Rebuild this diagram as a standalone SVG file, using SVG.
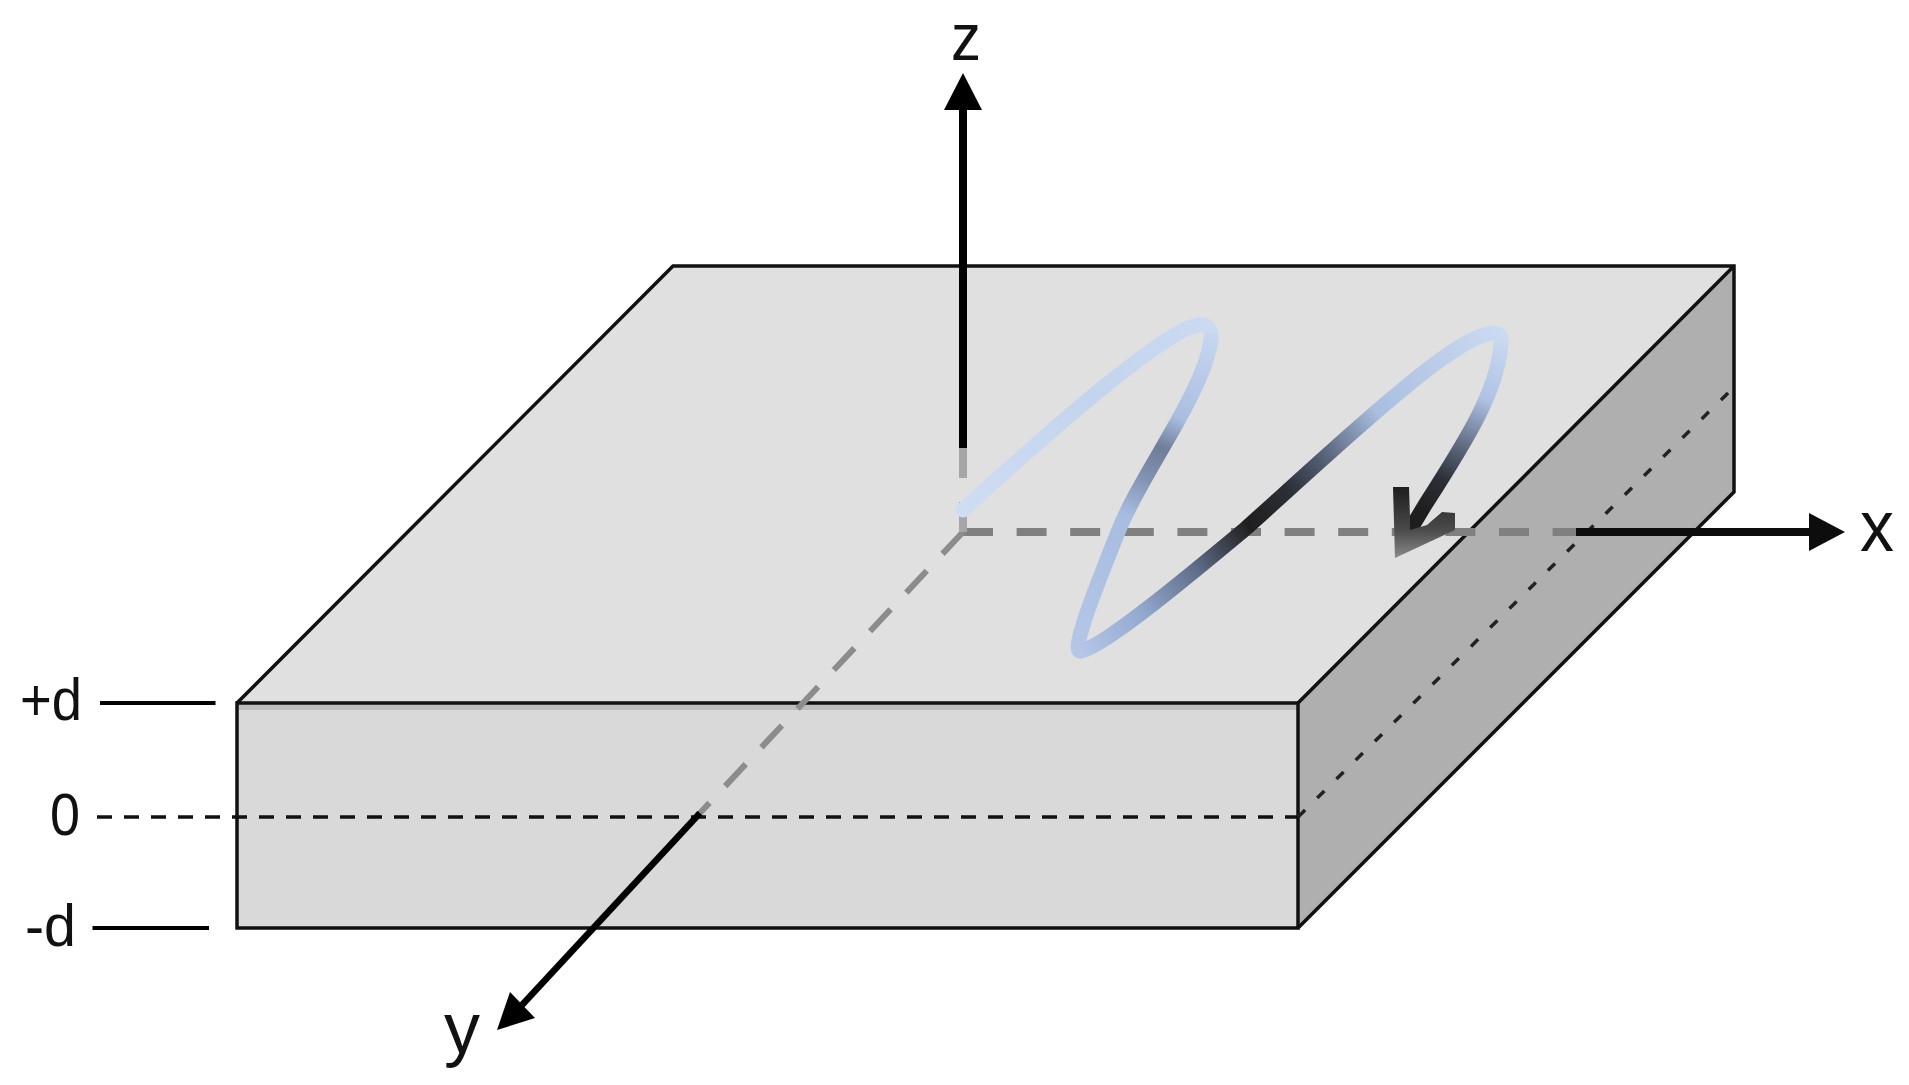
<svg xmlns="http://www.w3.org/2000/svg" width="1909" height="1085" viewBox="0 0 1909 1085">
<style>
.edge{stroke:#111;stroke-width:3.5;stroke-linejoin:miter;fill:none}
.lab{font-family:"Liberation Sans",Arial,sans-serif;fill:#111}
.ax{font-size:72px}
.tick{font-size:60px}
.wave{fill:none;stroke-width:15;stroke-linecap:round;stroke-linejoin:round}
.g1{fill:none;stroke:#808080;stroke-width:8;stroke-dasharray:30 23.6}
.g2{fill:none;stroke:#8c8c8c;stroke-width:6;stroke-dasharray:30 23}
.g3{fill:none;stroke:#a6a6a6;stroke-width:8}
.blk{stroke:#000;stroke-width:8;fill:none}
.dot{stroke:#222;stroke-width:3.5;fill:none}
</style>
<defs>
<linearGradient id="wa" gradientUnits="userSpaceOnUse" x1="963" y1="510" x2="1211" y2="325"><stop offset="0" stop-color="#cfddf3"/><stop offset="0.55" stop-color="#c3d4ee"/><stop offset="1" stop-color="#cbdaf1"/></linearGradient>
<linearGradient id="wb" gradientUnits="userSpaceOnUse" x1="1211" y1="335" x2="1078" y2="650"><stop offset="0" stop-color="#c6d6ef"/><stop offset="0.26" stop-color="#a9bee0"/><stop offset="0.36" stop-color="#6f7d98"/><stop offset="0.45" stop-color="#7f8fae"/><stop offset="0.58" stop-color="#a7bce0"/><stop offset="1" stop-color="#b4c7e7"/></linearGradient>
<linearGradient id="wc" gradientUnits="userSpaceOnUse" x1="1078" y1="650" x2="1500" y2="330"><stop offset="0" stop-color="#b4c7e7"/><stop offset="0.14" stop-color="#93a8ce"/><stop offset="0.27" stop-color="#5f6d88"/><stop offset="0.4" stop-color="#1e1e1e"/><stop offset="0.5" stop-color="#2b2f38"/><stop offset="0.6" stop-color="#5c6880"/><stop offset="0.72" stop-color="#a9bee0"/><stop offset="1" stop-color="#cbdaf1"/></linearGradient>
<linearGradient id="wd" gradientUnits="userSpaceOnUse" x1="1500" y1="340" x2="1420" y2="510"><stop offset="0" stop-color="#c9d8f0"/><stop offset="0.32" stop-color="#aec2e4"/><stop offset="0.6" stop-color="#5f6a80"/><stop offset="0.8" stop-color="#2b2f38"/><stop offset="1" stop-color="#1e1e1e"/></linearGradient>
<linearGradient id="wh" gradientUnits="userSpaceOnUse" x1="0" y1="487" x2="0" y2="558"><stop offset="0" stop-color="#1e1e1e"/><stop offset="0.6" stop-color="#4a4a4a"/><stop offset="1" stop-color="#8a8a8a"/></linearGradient>
</defs>
<g id="slab">
<polygon id="top-face" points="673,266 1734,266 1298,703 237,703" fill="#e0e0e0"/>
<polygon id="right-face" points="1734,266 1734,492 1298,928 1298,703" fill="#afafaf"/>
<rect id="front-face" x="237" y="703" width="1061" height="225" fill="#d9d9d9"/>
<rect x="237" y="703" width="1061" height="7" fill="#bdbdbd"/>
<path class="edge" d="M237,703 L673,266 L1734,266 L1734,492 L1298,928 M1734,266 L1298,703"/>
<rect class="edge" x="237" y="703" width="1061" height="225"/>
</g>
<g id="connectors">
<path class="dot" d="M97,817 H1298" stroke-dasharray="15 12" style="stroke:#111"/>
<path class="dot" d="M1298,817 L1729,392" stroke-dasharray="10 17"/>
<path class="g1" d="M963,532 H1576"/>
<path class="g2" d="M963,532 L700,813"/>
<path class="blk" d="M700,813 L522,1005" style="stroke-width:6.5"/>
<polygon points="497,1030 510,992 535,1018" fill="#000"/>
<path class="blk" d="M963,105 V448"/>
<path class="g3" d="M963,448 V478 M963,502 V532"/>
<polygon points="963,73 982,110 944,110" fill="#000"/>
<path class="blk" d="M1576,532 H1815" style="stroke:#0d0d0d"/>
<polygon points="1845,532 1809,513 1809,551" fill="#0d0d0d"/>
<path class="blk" d="M100,703 H215.5" style="stroke-width:4"/>
<path class="blk" d="M92.5,928 H209" style="stroke-width:4"/>
</g>
<g id="wave">
<path class="wave" stroke="url(#wa)" stroke-linecap="butt" d="M963,510 C1040,440 1130,360 1180,332 C1200,321 1213,322 1211,340"/>
<path class="wave" stroke="url(#wb)" d="M1211,340 C1203,395 1140,475 1118,532 C1103,570 1070,650 1080,651"/>
<path class="wave" stroke="url(#wc)" d="M1080,651 C1100,650 1190,575 1244,530 C1300,480 1380,405 1436,363 C1465,342 1505,318 1501,345"/>
<path class="wave" stroke="url(#wd)" d="M1501,345 C1497,390 1470,435 1425,505 L1410,530"/>
<polygon fill="url(#wh)" points="1395,558 1393,487 1409,487 1410,516 1410,530 1427,525 1442,512 1455,513 1455,530"/>
</g>
<g id="labels">
<text class="lab" style="font-size:66px" x="951" y="60" textLength="30" lengthAdjust="spacingAndGlyphs">z</text>
<text class="lab ax" x="1860" y="551" textLength="34" lengthAdjust="spacingAndGlyphs">x</text>
<text class="lab ax" x="444" y="1053">y</text>
<text class="lab tick" x="20" y="720" textLength="62" lengthAdjust="spacingAndGlyphs">+d</text>
<text class="lab tick" x="50" y="835" textLength="30" lengthAdjust="spacingAndGlyphs">0</text>
<text class="lab tick" x="25" y="946" textLength="51" lengthAdjust="spacingAndGlyphs">-d</text>
</g>
</svg>
